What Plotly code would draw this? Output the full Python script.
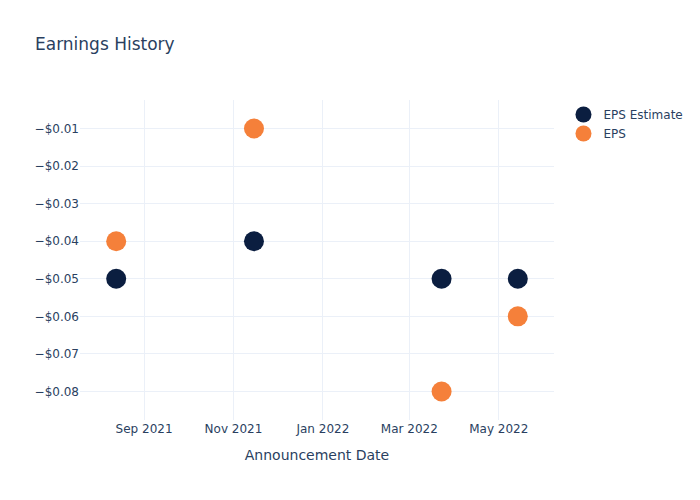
import plotly.graph_objects as go

dates = ["2021-08-13", "2021-11-15", "2022-03-23", "2022-05-14"]
eps_estimate = [-0.05, -0.04, -0.05, -0.05]
eps_actual = [-0.04, -0.01, -0.08, -0.06]

fig = go.Figure()
fig.add_trace(go.Scatter(x=dates, y=eps_estimate, mode="markers", name="EPS Estimate",
                         marker=dict(color="#0b1e40", size=20)))
fig.add_trace(go.Scatter(x=dates, y=eps_actual, mode="markers", name="EPS",
                         marker=dict(color="#f5803a", size=20)))
fig.update_layout(
    template="plotly_white",
    width=700, height=500,
    font=dict(family="DejaVu Sans"),
    title=dict(text="Earnings History"),
    xaxis=dict(title=dict(text="Announcement Date")),
    yaxis=dict(tickformat="$.2f"),
)
fig.write_html("out.html", post_script="document.body.style.margin='0';",
               config={"displayModeBar": False})
